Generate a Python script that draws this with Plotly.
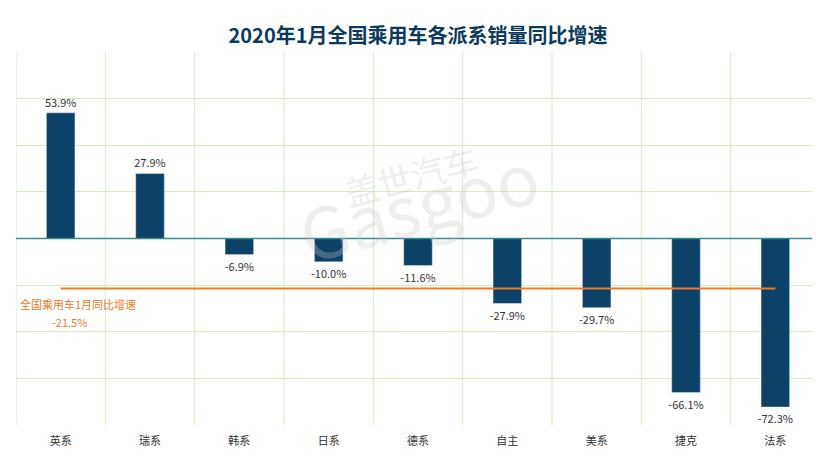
import plotly.graph_objects as go

categories = ["英系", "瑞系", "韩系", "日系", "德系", "自主", "美系", "捷克", "法系"]
values = [53.9, 27.9, -6.9, -10.0, -11.6, -27.9, -29.7, -66.1, -72.3]
overall = -21.5
labels = [f"{v:.1f}%" for v in values]

fig = go.Figure()
fig.add_trace(go.Bar(
    x=list(range(len(categories))), y=values, width=0.32,
    marker_color="#0c4168", text=labels, textposition="outside", constraintext="none",
    textfont=dict(size=11, color="#333"), cliponaxis=False, showlegend=False))
fig.add_trace(go.Scatter(
    x=[0, len(categories) - 1], y=[overall, overall], mode="lines",
    line=dict(color="#f07a26", width=2), showlegend=False))

fig.add_annotation(x=-0.48, y=overall - 2.5, xref="x", yref="y", xanchor="left", yanchor="top",
                   text="全国乘用车1月同比增速", showarrow=False,
                   font=dict(size=11, color="#f07a26"))
fig.add_annotation(x=0.1, y=overall - 10, xref="x", yref="y", xanchor="center", yanchor="top",
                   text="-21.5%", showarrow=False,
                   font=dict(size=11, color="#f07a26"))
fig.add_annotation(x=0.5, y=0.6, xref="paper", yref="paper", text="盖世汽车<br><span style='font-size:70px'>Gasgoo</span>",
                   showarrow=False, font=dict(size=34, color="rgba(200,200,200,0.3)"), textangle=-15)

shapes = []
for i in range(len(categories) + 1):
    shapes.append(dict(type="line", xref="x", yref="paper", x0=i - 0.5, x1=i - 0.5, y0=0, y1=1,
                       line=dict(color="#d8ecbf", width=1), layer="below"))
shapes.append(dict(type="line", xref="paper", yref="y", x0=0, x1=1, y0=0, y1=0,
                   line=dict(color="#3a8a8a", width=1.5)))
fig.update_layout(shapes=shapes)

fig.update_layout(
    width=820, height=461, paper_bgcolor="white", plot_bgcolor="white",
    margin=dict(l=8, r=8, t=44, b=44, autoexpand=False),
    title=dict(text="<b>2020年1月全国乘用车各派系销量同比增速</b>", x=0.5, y=0.955, xanchor="center",
               font=dict(size=20, color="#0c3a5e", family="Noto Sans CJK SC")),
    font=dict(family="Noto Sans CJK SC"),
    xaxis=dict(tickvals=list(range(len(categories))), ticktext=categories, range=[-0.5, len(categories) - 0.5],
               showgrid=False, zeroline=False, ticks="outside", ticklen=6, tickcolor="rgba(0,0,0,0)",
               tickfont=dict(size=11, color="#333")),
    yaxis=dict(range=[-80, 80], dtick=20, showticklabels=False, gridcolor="#d8ecbf", zeroline=False),
    bargap=0.6,
)
fig.write_html("out.html")
